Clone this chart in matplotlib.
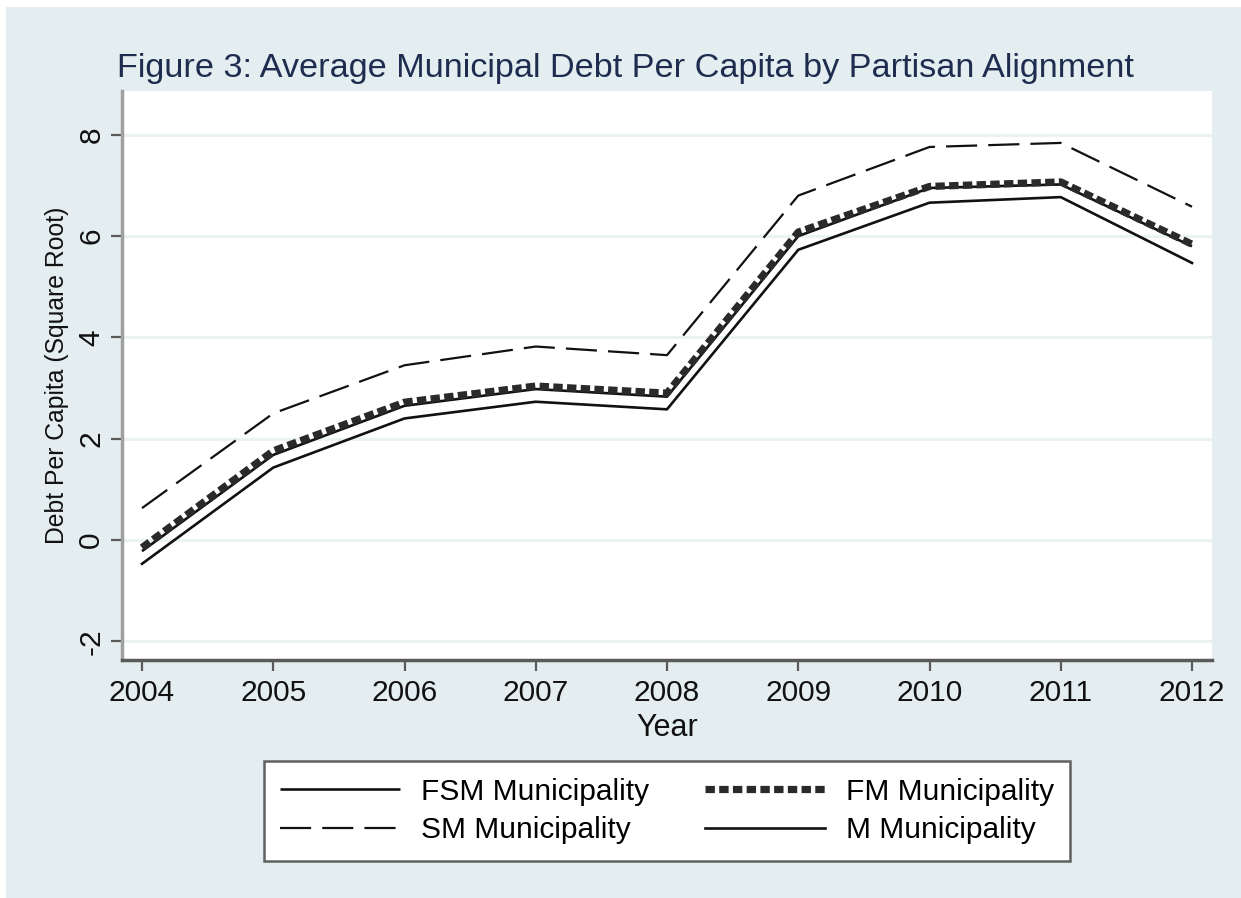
import matplotlib
matplotlib.use("Agg")
from matplotlib import pyplot as plt
from matplotlib.patches import Rectangle

# values
years = [2004, 2005, 2006, 2007, 2008, 2009, 2010, 2011, 2012]
fsm = [-0.22, 1.68, 2.65, 2.98, 2.83, 6.0, 6.95, 7.02, 5.8]
sm = [0.63, 2.5, 3.45, 3.82, 3.65, 6.8, 7.76, 7.84, 6.58]
fm = [-0.15, 1.76, 2.72, 3.04, 2.9, 6.08, 6.98, 7.07, 5.84]
m = [-0.47, 1.43, 2.4, 2.73, 2.58, 5.73, 6.66, 6.77, 5.47]

labels = ["FSM Municipality", "SM Municipality", "FM Municipality", "M Municipality"]
yticks = [-2, 0, 2, 4, 6, 8]

plt.rcParams["font.family"] = ["Liberation Sans", "DejaVu Sans"]

bg = "#e4eef0"
fig = plt.figure(figsize=(12.41, 8.98), dpi=100, facecolor="white")
# stata-style light background, small white margin top/left
fig.patches.append(Rectangle((6 / 1241, 0), 1, 1 - 7 / 898, transform=fig.transFigure,
                             facecolor=bg, edgecolor="none", zorder=-10))

ax = fig.add_axes([122 / 1241, 1 - 660 / 898, (1212 - 122) / 1241, (660 - 91) / 898])
ax.set_facecolor("white")

for y in yticks:
    ax.axhline(y, color="#eaf2f3", lw=2.2, zorder=0)

h1, = ax.plot(years, fsm, color="#111111", lw=1.9, solid_capstyle="butt")
h2, = ax.plot(years, sm, color="#111111", lw=1.6, dashes=(14, 5))
h3, = ax.plot(years, fm, color="#2a2a2a", lw=5.2, dashes=(1.3, 0.6), dash_capstyle="butt")
h4, = ax.plot(years, m, color="#111111", lw=1.9)

ax.set_xlim(2004 - 20 / 131.25, 2012 + 20 / 131.25)
ax.set_ylim(-2.369, 8.865)
ax.set_xticks(years)
ax.set_yticks(yticks)
ax.set_yticklabels([str(v) for v in yticks], rotation=90, va="center")

for s in ["top", "right"]:
    ax.spines[s].set_visible(False)
ax.spines["left"].set_color("#a0a0a0")
ax.spines["left"].set_linewidth(2.5)
ax.spines["bottom"].set_color("#5a5a5a")
ax.spines["bottom"].set_linewidth(2.5)
ax.tick_params(axis="both", direction="out", length=8, width=1.6, color="#5a5a5a",
               labelsize=21.5, labelcolor="#111111")
ax.tick_params(axis="x", pad=6)
ax.tick_params(axis="y", pad=4)

ax.set_xlabel("Year", fontsize=22, color="#111111", labelpad=4)
ax.set_ylabel("Debt Per Capita (Square Root)", fontsize=17.8, color="#111111", labelpad=6)

fig.text(0.504, 0.924, "Figure 3: Average Municipal Debt Per Capita by Partisan Alignment",
         ha="center", va="center", fontsize=24.7, color="#1e2d4f")

leg = fig.legend([h1, h2, h3, h4], labels, ncol=2, loc="center",
                 bbox_to_anchor=(667 / 1241, 1 - 811 / 898), fontsize=21.5,
                 frameon=True, fancybox=False, framealpha=1, handlelength=4.0,
                 handletextpad=0.7, columnspacing=1.9, labelspacing=0.35, borderpad=0.55)
leg.get_frame().set_edgecolor("#606060")
leg.get_frame().set_linewidth(1.8)
leg.get_frame().set_facecolor("white")

fig.savefig("out.png", dpi=100, facecolor=fig.get_facecolor())
